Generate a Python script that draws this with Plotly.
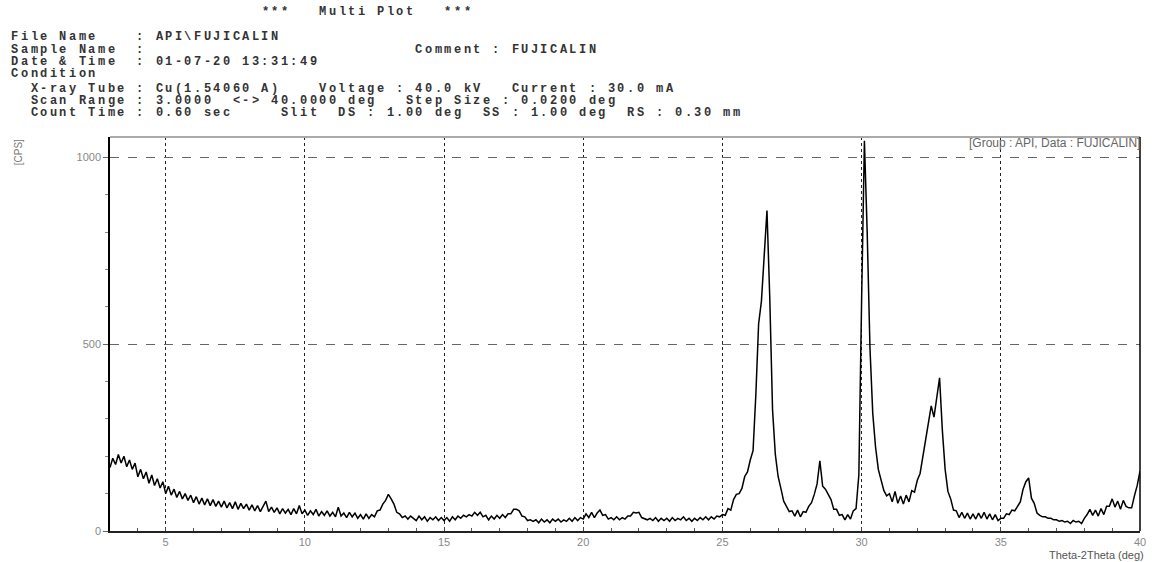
import numpy as np
import plotly.graph_objects as go

# ---------------- data ----------------
two_theta_start = 3.0
two_theta_step = 0.1
intensity = [
    # 3.0 - 3.9
    170, 195, 178, 205, 182, 200, 172, 190, 165, 182,
    # 4.0 - 4.9
    145, 165, 140, 158, 128, 150, 122, 140, 115, 132,
    # 5.0 - 5.9
    100, 120, 96, 112, 90, 106, 86, 100, 82, 96,
    # 6.0 - 6.9
    76, 92, 72, 88, 70, 86, 68, 84, 66, 80,
    # 7.0 - 7.9
    64, 80, 62, 76, 60, 78, 58, 74, 60, 72,
    # 8.0 - 8.9
    56, 70, 54, 68, 52, 66, 80, 52, 64, 50,
    # 9.0 - 9.9
    62, 46, 60, 48, 58, 44, 60, 46, 68, 46,
    # 10.0 - 10.9
    56, 42, 54, 44, 58, 40, 52, 42, 54, 40,
    # 11.0 - 11.9
    50, 38, 64, 40, 48, 36, 50, 38, 48, 34,
    # 12.0 - 12.9
    44, 32, 46, 34, 44, 38, 54, 56, 72, 82,
    # 13.0 - 13.9
    98, 86, 72, 50, 46, 36, 40, 32, 40, 34,
    # 14.0 - 14.9
    28, 40, 30, 38, 26, 36, 30, 38, 28, 36,
    # 15.0 - 15.9
    28, 36, 26, 38, 30, 40, 34, 42, 38, 44,
    # 16.0 - 16.9
    40, 50, 42, 50, 38, 42, 30, 40, 32, 42,
    # 17.0 - 17.9
    34, 44, 36, 46, 46, 58, 58, 54, 40, 38,
    # 18.0 - 18.9
    28, 30, 26, 30, 22, 32, 24, 30, 22, 32,
    # 19.0 - 19.9
    26, 32, 24, 30, 26, 34, 26, 36, 28, 36,
    # 20.0 - 20.9
    32, 46, 36, 50, 36, 48, 56, 42, 44, 32,
    # 21.0 - 21.9
    36, 30, 38, 30, 36, 32, 40, 40, 50, 48,
    # 22.0 - 22.9
    50, 36, 34, 30, 34, 28, 36, 26, 34, 28,
    # 23.0 - 23.9
    34, 26, 36, 28, 34, 30, 38, 28, 34, 26,
    # 24.0 - 24.9
    34, 28, 36, 30, 38, 30, 38, 32, 40, 38,
    # 25.0 - 25.9
    44, 42, 60, 56, 84, 98, 100, 114, 146, 158,
    # 26.0 - 26.9
    190, 215, 365, 555, 615, 755, 858, 625, 325, 205,
    # 27.0 - 27.9
    146, 114, 80, 66, 52, 54, 40, 56, 38, 52,
    # 28.0 - 28.9
    50, 66, 76, 98, 126, 188, 120, 112, 96, 84,
    # 29.0 - 29.9
    58, 58, 42, 44, 30, 44, 32, 54, 60, 150,
    # 30.0 - 30.9
    620, 1045, 800, 490, 315, 225, 165, 132, 108, 94,
    # 31.0 - 31.9
    100, 78, 106, 74, 94, 72, 96, 78, 108, 104,
    # 32.0 - 32.9
    136, 154, 200, 240, 295, 335, 305, 355, 410, 270,
    # 33.0 - 33.9
    165, 106, 86, 56, 54, 36, 50, 34, 48, 32,
    # 34.0 - 34.9
    46, 32, 48, 34, 50, 32, 46, 30, 44, 28,
    # 35.0 - 35.9
    34, 34, 46, 44, 56, 54, 68, 78, 112, 132,
    # 36.0 - 36.9
    142, 88, 74, 48, 42, 38, 38, 34, 34, 30,
    # 37.0 - 37.9
    30, 26, 28, 24, 26, 20, 28, 24, 26, 20,
    # 38.0 - 38.9
    34, 44, 58, 42, 56, 40, 60, 44, 66, 66,
    # 39.0 - 39.9
    86, 64, 80, 58, 82, 66, 62, 62, 94, 122,
    # 40.0
    160,
]
two_theta = two_theta_start + two_theta_step * np.arange(len(intensity))

x_tick_values = [5, 10, 15, 20, 25, 30, 35, 40]
x_tick_labels = ["5", "10", "15", "20", "25", "30", "35", "40"]
y_tick_values = [0, 500, 1000]
y_tick_labels = ["0", "500", "1000"]

# header text lines (monospaced report layout) and their vertical positions
header_lines = [
    ("File Name    : API\\FUJICALIN", 37),
    ("Sample Name  :" + " " * 28 + "Comment : FUJICALIN", 50),
    ("Date & Time  : 01-07-20 13:31:49", 62),
    ("Condition", 74),
    ("  X-ray Tube : Cu(1.54060 A)    Voltage : 40.0 kV   Current : 30.0 mA", 89),
    ("  Scan Range : 3.0000  <-> 40.0000 deg   Step Size : 0.0200 deg", 101),
    ("  Count Time : 0.60 sec     Slit  DS : 1.00 deg  SS : 1.00 deg  RS : 0.30 mm", 113),
]
title_text = "***   Multi Plot   ***"

# ---------------- layout geometry ----------------
W, H = 1158, 562
ML, MR, MT, MB = 110, 15, 137, 31
PW, PH = W - ML - MR, H - MT - MB
CHAR_PITCH = 9.65  # horizontal pitch of the report's monospaced columns


def px(x):
    return (x - ML) / PW


def py(y):
    return 1 - (y - MT) / PH


fig = go.Figure()
fig.add_trace(go.Scatter(
    x=two_theta, y=intensity, mode="lines",
    line=dict(color="black", width=1.5),
    hoverinfo="skip", showlegend=False,
))

mono = dict(family="Liberation Mono", size=12, color="#333333", weight="bold")
annotations = []
for line, x0, ypx in [(title_text, 261, 12)] + [(t, 10, y) for t, y in header_lines]:
    for col, ch in enumerate(line):
        if ch == " ":
            continue
        annotations.append(dict(
            text=ch, x=px(x0 + col * CHAR_PITCH), y=py(ypx),
            xref="paper", yref="paper", xanchor="left", yanchor="middle",
            showarrow=False, font=mono, borderpad=0,
        ))

annotations += [
    dict(text="[Group : API, Data : FUJICALIN]", x=px(1144), y=py(143), xref="paper", yref="paper",
         xanchor="right", yanchor="middle", showarrow=False, borderpad=0,
         font=dict(family="Liberation Sans", size=12, color="#666666")),
    dict(text="Theta-2Theta (deg)", x=px(1148), y=py(555), xref="paper", yref="paper",
         xanchor="right", yanchor="middle", showarrow=False, borderpad=0,
         font=dict(family="Liberation Sans", size=11, color="#555555")),
    dict(text="[CPS]", x=px(18), y=py(152), xref="paper", yref="paper", textangle=-90,
         xanchor="center", yanchor="middle", showarrow=False,
         font=dict(family="Liberation Sans", size=10, color="#777777")),
]

shapes = [
    # top frame (grey) and right frame (black)
    dict(type="line", xref="paper", yref="paper", x0=0, x1=1, y0=1, y1=1,
         line=dict(color="#aaaaaa", width=2)),
    dict(type="line", xref="paper", yref="paper", x0=1, x1=1, y0=0, y1=1,
         line=dict(color="black", width=1.5)),
]

fig.update_layout(
    width=W, height=H,
    margin=dict(l=ML, r=MR, t=MT, b=MB, pad=0),
    paper_bgcolor="white", plot_bgcolor="white",
    annotations=annotations, shapes=shapes,
    showlegend=False,
    xaxis=dict(
        range=[3, 40], tickvals=x_tick_values, ticktext=x_tick_labels,
        showline=True, linecolor="#222222", linewidth=2,
        ticks="inside", ticklen=4, tickcolor="#444444",
        minor=dict(dtick=1, ticks="inside", ticklen=3, tickcolor="#555555", showgrid=False),
        showgrid=True, gridcolor="#222222", griddash="dot", gridwidth=1,
        zeroline=False,
        tickfont=dict(family="Liberation Sans", size=11, color="#888888"),
    ),
    yaxis=dict(
        range=[0, 1055], tickvals=y_tick_values, ticktext=y_tick_labels,
        showline=True, linecolor="black", linewidth=1.5,
        ticks="outside", ticklen=5, tickcolor="#666666",
        minor=dict(dtick=100, ticks="outside", ticklen=3, tickcolor="#888888", showgrid=False),
        showgrid=True, gridcolor="#666666", griddash="dash", gridwidth=1,
        zeroline=False,
        tickfont=dict(family="Liberation Sans", size=11, color="#888888"),
    ),
)

fig.write_html("out.html")
